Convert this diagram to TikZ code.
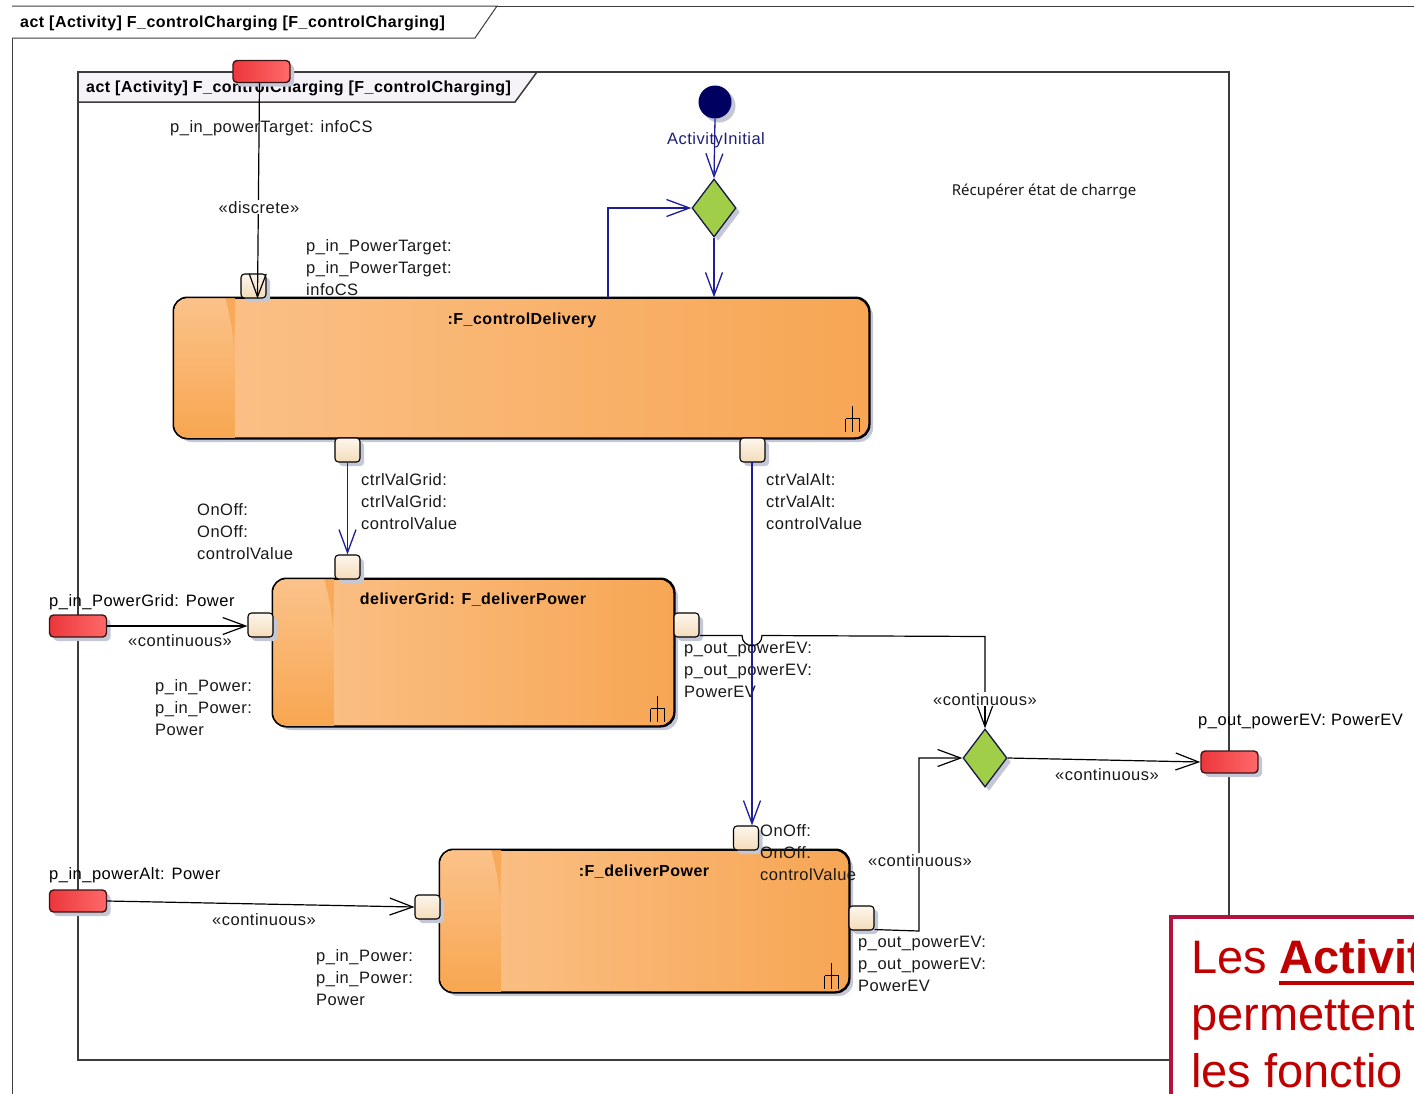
\documentclass[tikz,border=0pt]{standalone}
\usepackage{fontspec}
\setmainfont{Liberation Sans}[LetterSpace=3]
\newfontfamily\notefont{Liberation Sans}
\newfontfamily\recfont{Noto Sans}
\usetikzlibrary{arrows.meta,shapes.geometric,shadows,calc}
\definecolor{navyl}{RGB}{30,30,150}
\definecolor{initF}{RGB}{0,0,96}
\definecolor{initT}{RGB}{30,30,120}
\definecolor{decF}{RGB}{160,206,72}
\definecolor{decB}{RGB}{25,25,70}
\definecolor{redL}{RGB}{236,55,60}
\definecolor{redR}{RGB}{255,105,105}
\definecolor{redB}{RGB}{60,20,20}
\definecolor{pinT}{RGB}{253,246,236}
\definecolor{pinB}{RGB}{244,220,186}
\definecolor{orL}{RGB}{251,194,138}
\definecolor{orR}{RGB}{247,166,84}
\definecolor{orSb}{RGB}{248,166,80}
\definecolor{orW}{RGB}{248,170,90}
\definecolor{shadowc}{RGB}{196,200,214}
\definecolor{hdrF}{RGB}{245,243,248}
\definecolor{framec}{RGB}{60,60,60}
\definecolor{txt}{RGB}{25,25,25}
\definecolor{noteR}{RGB}{192,0,0}
\definecolor{noteB}{RGB}{180,18,62}
\tikzset{
  lbl/.style={font=\fontsize{16.5}{22}\selectfont, text=txt, inner sep=0pt},
  lbll/.style={lbl, align=left, anchor=north west},
  lblb/.style={lbl, anchor=base west},
  stereo/.style={lbl, anchor=base},
  stereow/.style={lbl, anchor=base, fill=white, inner sep=1pt},
  ttl/.style={font=\bfseries\fontsize{16}{20}\selectfont, text=black, inner sep=0pt, anchor=base},
  shad/.style={drop shadow={shadow xshift=4pt, shadow yshift=-4pt, fill=shadowc, opacity=1}},
  actbox/.style={shad, draw=black, line width=1.5pt, rounded corners=14pt, left color=orL, right color=orR, inner sep=0pt},
  smallpin/.style={shad, draw=black, line width=1.1pt, rounded corners=3.5pt, top color=pinT, bottom color=pinB, minimum width=25pt, minimum height=24pt, inner sep=0pt},
  redpin/.style={shad, draw=redB, line width=1.4pt, rounded corners=4pt, left color=redL, right color=redR, minimum width=57pt, minimum height=22pt, inner sep=0pt},
  decis/.style={shad, diamond, draw=decB, line width=1.3pt, fill=decF, minimum width=44pt, minimum height=58pt, inner sep=0pt},
  navyflow/.style={draw=navyl, line width=1.3pt, -{Straight Barb[length=23pt,width=17pt]}},
  blkflow/.style={draw=black, line width=1.2pt, -{Straight Barb[length=23pt,width=17pt]}},
  blkline/.style={draw=black, line width=1.2pt},
  notetxt/.style={anchor=base west, inner sep=0pt, font=\notefont\fontsize{47}{56}\selectfont, text=noteR},
  rake/.pic={\draw[black, line width=1.2pt] (0,-13) -- (0,13) (-7,0) -- (7,0) (-7,0) -- (-7,13) (7,0) -- (7,13);}
}
\newcommand\foldstrip[1]{%
  \begin{scope}
    \clip[rounded corners=13pt] ($(#1.north west)+(0.8,0.8)$) rectangle ($(#1.south east)+(-0.8,-0.8)$);
    \path[top color=orL, bottom color=orSb] (#1.north west) rectangle ($(#1.south west)+(61,0)$);
    \fill[orW] ($(#1.north west)+(52,0)$) -- ($(#1.north west)+(62,0)$) -- ($(#1.north west)+(61,50)$) .. controls ($(#1.north west)+(58,25)$) .. ($(#1.north west)+(52,0)$);
  \end{scope}
  \draw[black, line width=1.5pt, rounded corners=14pt] (#1.north west) rectangle (#1.south east);
}
\begin{document}
\begin{tikzpicture}[x=1pt,y=-1pt]
\useasboundingbox (0,0) rectangle (1414,1093);
\begin{scope}
\clip (0,0) rectangle (1414,1093);
\fill[white] (0,0) rectangle (1414,1093);
% outer frame
\draw[framec, line width=1pt] (12,1100) -- (12,6) -- (1420,6);
\draw[framec, line width=1pt, fill=white] (12,6) -- (497,6) -- (475,38) -- (12,38);
\node[ttl, anchor=base west] (otitle) at (20,27) {act [Activity] F\_controlCharging [F\_controlCharging]};
% inner frame
\fill[hdrF] (78,72) -- (537,72) -- (515,102) -- (78,102) -- cycle;
\draw[framec, line width=1.8pt] (78,72) rectangle (1229,1060);
\draw[framec, line width=1.5pt] (537,72) -- (515,102) -- (78,102);
\node[ttl, anchor=base west] (ititle) at (86,92) {act [Activity] F\_controlCharging [F\_controlCharging]};

% activity boxes
\node[actbox, minimum width=695pt, minimum height=140pt] (cd) at (521.5,368) {};
\foldstrip{cd}
\node[actbox, minimum width=401pt, minimum height=147pt] (dg) at (473.5,652.5) {};
\foldstrip{dg}
\node[actbox, minimum width=409pt, minimum height=142pt] (dp) at (644.5,921) {};
\foldstrip{dp}
\node[ttl] (cdT) at (522,324) {:F\_controlDelivery};
\node[ttl] (dgT) at (473,604) {deliverGrid: F\_deliverPower};
\node[ttl] (dpT) at (644,876) {:F\_deliverPower};
\pic at ($(cd.south east)+(-17,-20)$) {rake};
\pic at ($(dg.south east)+(-17,-18)$) {rake};
\pic at ($(dp.south east)+(-18,-17)$) {rake};

% small pins
\node[smallpin] (cdIn) at (253.5,286) {};
\node[smallpin] (cdOutG) at (347.5,450) {};
\node[smallpin] (cdOutA) at (752.5,450) {};
\node[smallpin] (dgTop) at (347.5,567) {};
\node[smallpin] (dgIn) at (260.5,625) {};
\node[smallpin] (dgOut) at (686.5,625) {};
\node[smallpin] (dpTop) at (746,838) {};
\node[smallpin] (dpIn) at (427.5,907) {};
\node[smallpin] (dpOut) at (861.5,918) {};

% parameter pins
\node[redpin] (pinTop) at (261.5,71.5) {};
\node[redpin] (pinGrid) at (78,626) {};
\node[redpin] (pinAlt) at (78,901) {};
\node[redpin] (pinOut) at (1229.5,762) {};

% control nodes
\node[shad, circle, fill=initF, minimum size=33pt, inner sep=0pt] (init) at (715,102) {};
\node[decis] (dec1) at (714,208) {};
\node[decis] (dec2) at (985,758) {};

% labels
\node[lblb] (lTop) at (170,132) {p\_in\_powerTarget: infoCS};
\node[lbl, anchor=base, text=initT] (lInit) at (716,144) {ActivityInitial};
\node[anchor=base, inner sep=0pt, font=\recfont\fontsize{15}{18}\selectfont, text=txt] (lRec) at (1044,195) {Récupérer état de charrge};
\node[lbll] (l1) at (306,239) {p\_in\_PowerTarget:\\p\_in\_PowerTarget:\\infoCS};
\node[lbll] (l2) at (361,473) {ctrlValGrid:\\ctrlValGrid:\\controlValue};
\node[lbll] (l3) at (197,503) {OnOff:\\OnOff:\\controlValue};
\node[lbll] (l4) at (766,473) {ctrValAlt:\\ctrValAlt:\\controlValue};
\node[lbll] (l5) at (155,679) {p\_in\_Power:\\p\_in\_Power:\\Power};
\node[lbll] (l6) at (684,642) {p\_out\_powerEV:\\p\_out\_powerEV:\\PowerEV};
\node[lbll] (l7) at (760,824) {OnOff:\\OnOff:\\controlValue};
\node[lbll] (l8) at (316,949) {p\_in\_Power:\\p\_in\_Power:\\Power};
\node[lbll] (l9) at (858,936) {p\_out\_powerEV:\\p\_out\_powerEV:\\PowerEV};
\node[lblb, text=black] (lGrid) at (49,606) {p\_in\_PowerGrid: Power};
\node[lblb, text=black] (lAlt) at (49,879) {p\_in\_powerAlt: Power};
\node[lblb, text=black] (lOut) at (1198,725) {p\_out\_powerEV: PowerEV};

% connectors
\coordinate (topEnd) at ($(cdIn.south)+(4,0)$);
\draw[blkflow] ([xshift=-2pt]pinTop.south) -- (topEnd);
\node[stereow] (sDisc) at (259,213) {«discrete»};

\draw[navyflow] (init.south) -- (dec1.north);
\draw[navyflow] (dec1.south) -- (dec1.south |- cd.north);
\coordinate (loopS) at (608,298);
\draw[navyflow] (loopS) |- (dec1.west);

\draw[navyflow] (cdOutG.south) -- (dgTop.north);
\coordinate (altS) at (752,462);
\draw[navyflow] (altS) -- (altS |- dpTop.north);

\draw[blkflow] (pinGrid.east) -- (dgIn.west |- pinGrid.east);
\node[stereo] (sGrid) at (180,646) {«continuous»};
\draw[blkflow] (pinAlt.east) -- (dpIn.west);
\node[stereo] (sAlt) at (264,925) {«continuous»};

\coordinate (gOut) at ($(dgOut.south east)+(0,-2)$);
\draw[blkline] (gOut) -- (742,635.5) .. controls (742,649) and (762,649) .. (762,635.5) -- (985,636.5) -- (985,700);
\draw[blkflow] (985,700) -- (dec2.north);
\node[stereow] (sDec2) at (985,705) {«continuous»};

\coordinate (pOut) at ($(dpOut.south east)+(0,-1)$);
\draw[blkflow] (pOut) -- (919,931) |- (dec2.west);
\node[stereow] (sDp) at (920,866) {«continuous»};

\draw[blkflow] (dec2.east) -- (pinOut.west);
\node[stereo] (sOut) at (1107,780) {«continuous»};

% note
\draw[noteB, line width=4.5pt, fill=white] (1171,917) rectangle (1440,1120);
\node[notetxt] (nLes) at (1191,973) {Les};
\node[notetxt, font=\notefont\bfseries\fontsize{47}{56}\selectfont] (nAct) at ($(nLes.base east)+(12,0)$) {Activit};
\draw[noteR, line width=4pt] ($(nAct.base west)+(0,10)$) -- ($(nAct.base east)+(0,10)$);
\node[notetxt] (nPer) at (1191,1030) {permettent};
\node[notetxt] (nFon) at (1191,1087) {les fonctio};
\end{scope}
\end{tikzpicture}
\end{document}
